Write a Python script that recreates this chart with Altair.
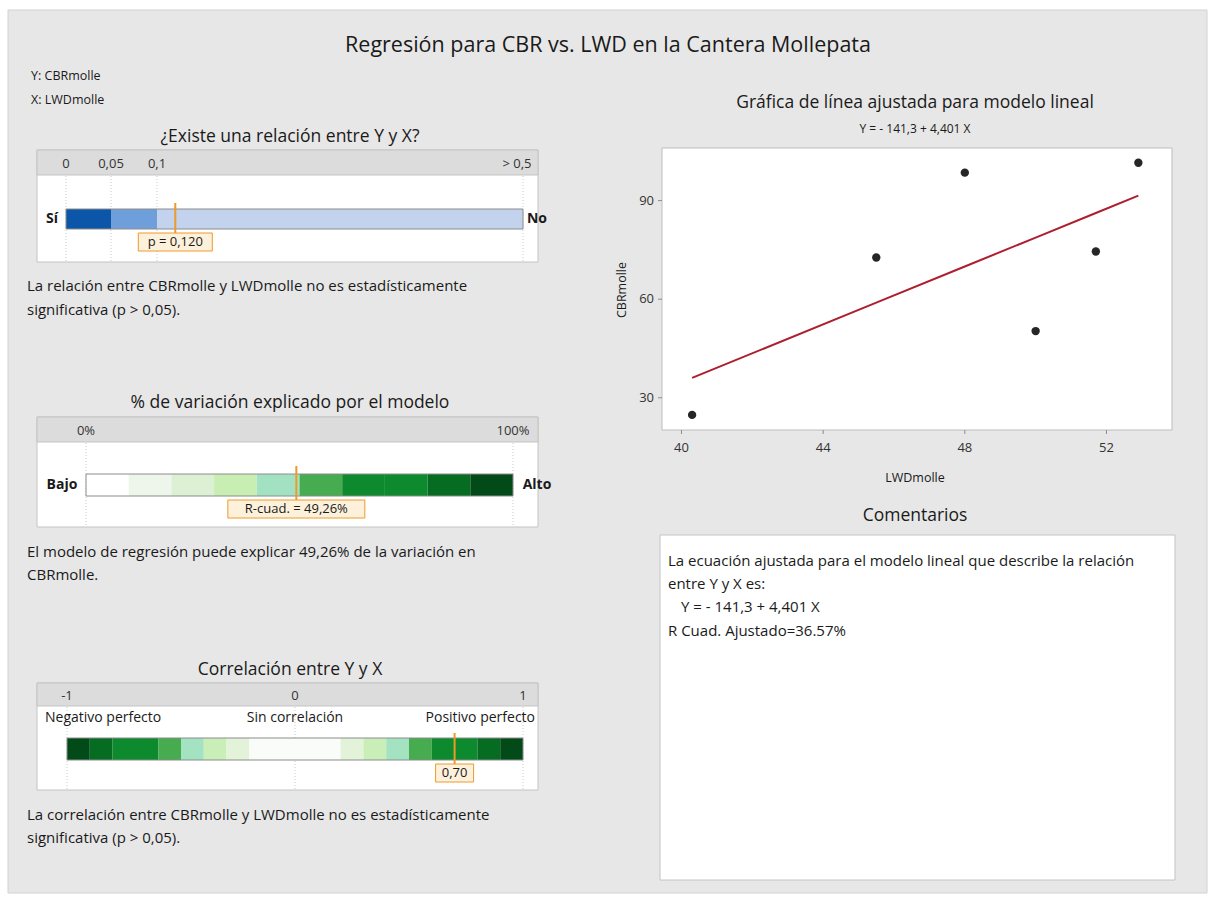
import altair as alt
import pandas as pd

W, H = 1216, 908
FONT = "Open Sans"
INK = "#1a1a1a"
ORANGE = "#ee9a2a"
BOX_FILL = "#fdf1dc"

# ---------------- data ----------------
# relationship test (p-value gauge)
p_value = 0.120
p_ticks = [0, 0.05, 0.1, 0.5]
p_tick_labels = ["0", "0,05", "0,1", "> 0,5"]
p_band_start = [0, 0.05, 0.1]
p_band_end = [0.05, 0.1, 0.5]
p_band_name = ["b1", "b2", "b3"]

# explained variation (R-squared gauge, %)
r2_value = 49.26
r2_ticks = [0, 100]
r2_tick_labels = ["0%", "100%"]
r2_band_start = [0, 10, 20, 30, 40, 50, 60, 70, 80, 90]
r2_band_end = [10, 20, 30, 40, 50, 60, 70, 80, 90, 100]
r2_band_name = ["g0", "g1", "g2", "g3", "g4", "g5", "g6", "g7", "g8", "g9"]

# correlation gauge
corr_value = 0.70
corr_ticks = [-1, 0, 1]
corr_tick_labels = ["-1", "0", "1"]
corr_band_start = [-1, -0.9, -0.8, -0.6, -0.5, -0.4, -0.3, -0.2, 0.2, 0.3, 0.4, 0.5, 0.6, 0.8, 0.9]
corr_band_end = [-0.9, -0.8, -0.6, -0.5, -0.4, -0.3, -0.2, 0.2, 0.3, 0.4, 0.5, 0.6, 0.8, 0.9, 1]
corr_band_name = ["c9", "c8", "c6", "c5", "c4", "c3", "c2", "c0", "c2", "c3", "c4", "c5", "c6", "c8", "c9"]

# observations and fitted line
lwd = [40.3, 45.5, 48.0, 50.0, 51.7, 52.9]
cbr = [24.8, 72.7, 98.5, 50.3, 74.5, 101.5]
intercept = -141.3
slope = 4.401
x_ticks = [40, 44, 48, 52]
y_ticks = [30, 60, 90]

# ---------------- styles ----------------
BLUES = ["#0b56a8", "#6e9fdb", "#c3d3ee"]
R2_GREENS = ["#ffffff", "#eef6eb", "#dcf0d3", "#c8eeb3", "#a2e2c3",
             "#47ab4f", "#0d8a2d", "#0d8a2d", "#066c21", "#024a18"]
CORR_NAMES = ["c0", "c2", "c3", "c4", "c5", "c6", "c8", "c9"]
CORR_GREENS = ["#f9fcf8", "#e2f3da", "#c9eeb8", "#a3e3c2", "#47ab4f", "#0d8a2d", "#066c21", "#024a18"]

BODY = 15
TITLE = 17.5
TICK = 13

one = pd.DataFrame({"k": [0]})
layers = []


def text(s, x, y, size=BODY, weight="normal", align="left", color=INK, angle=None):
    kw = dict(text=s, fontSize=size, fontWeight=weight, align=align,
              baseline="middle", color=color, font=FONT)
    if angle is not None:
        kw["angle"] = angle
    layers.append(alt.Chart(one).mark_text(**kw).encode(x=alt.value(x), y=alt.value(y)))


def rect(x1, y1, x2, y2, fill, stroke=None, sw=1):
    kw = dict(fill=fill)
    if stroke:
        kw.update(stroke=stroke, strokeWidth=sw)
    else:
        kw.update(strokeWidth=0)
    layers.append(alt.Chart(one).mark_rect(**kw).encode(
        x=alt.value(x1), x2=alt.value(x2), y=alt.value(y1), y2=alt.value(y2)))


def gauge(top, bottom, header_h, scale, ticks, tick_labels, starts, ends, names,
          names_dom, palette, bar_y1, bar_y2, value, value_label, label_w,
          marker_y1, marker_y2, label_y, last_label_dx=0):
    # frame and header strip
    rect(37, top, 538, bottom, "#ffffff", "#c4c4c4")
    rect(37, top, 538, top + header_h, "#dcdcdc", "#c4c4c4")
    # dotted guide lines at tick positions
    tdf = pd.DataFrame({"v": ticks, "lab": tick_labels})
    layers.append(alt.Chart(tdf).mark_rule(color="#c9c9c9", strokeDash=[1, 2], strokeWidth=1).encode(
        x=alt.X("v:Q", scale=scale, axis=None), y=alt.value(top + header_h + 1), y2=alt.value(bottom - 1)))
    # tick labels in the header strip (the last one may be nudged inward)
    head = pd.DataFrame({"v": ticks[:-1], "lab": tick_labels[:-1]})
    tail = pd.DataFrame({"v": ticks[-1:], "lab": tick_labels[-1:]})
    for part, dx in ((head, 0), (tail, last_label_dx)):
        layers.append(alt.Chart(part).mark_text(fontSize=TICK, font=FONT, color="#333333",
                                                baseline="middle", dx=dx).encode(
            x=alt.X("v:Q", scale=scale, axis=None), y=alt.value(top + header_h / 2 + 1), text="lab:N"))
    # colored bands
    bdf = pd.DataFrame({"start": starts, "end": ends, "band": names})
    layers.append(alt.Chart(bdf).mark_rect(strokeWidth=0).encode(
        x=alt.X("start:Q", scale=scale, axis=None), x2="end:Q",
        y=alt.value(bar_y1), y2=alt.value(bar_y2),
        color=alt.Color("band:N", scale=alt.Scale(domain=names_dom, range=palette), legend=None)))
    # bar outline
    odf = pd.DataFrame({"start": [ticks[0]], "end": [ticks[-1]]})
    layers.append(alt.Chart(odf).mark_rect(fill=None, stroke="#8c8c8c", strokeWidth=1).encode(
        x=alt.X("start:Q", scale=scale, axis=None), x2="end:Q",
        y=alt.value(bar_y1), y2=alt.value(bar_y2)))
    # value marker with its label
    vdf = pd.DataFrame({"v": [value], "lab": [value_label]})
    layers.append(alt.Chart(vdf).mark_rule(color=ORANGE, strokeWidth=2).encode(
        x=alt.X("v:Q", scale=scale, axis=None), y=alt.value(marker_y1), y2=alt.value(marker_y2)))
    layers.append(alt.Chart(vdf).mark_rect(fill=BOX_FILL, stroke=ORANGE, strokeWidth=1,
                                           xOffset=-label_w / 2, x2Offset=label_w / 2).encode(
        x=alt.X("v:Q", scale=scale, axis=None), x2="v:Q",
        y=alt.value(label_y - 9), y2=alt.value(label_y + 9)))
    layers.append(alt.Chart(vdf).mark_text(fontSize=TICK, font=FONT, color=INK, baseline="middle").encode(
        x=alt.X("v:Q", scale=scale, axis=None), y=alt.value(label_y), text="lab:N"))


# ---------------- background ----------------
rect(0, 0, W, H, "#ffffff")
rect(8, 10, 1207, 893, "#e7e7e7", "#d2d2d2")

text("Regresión para CBR vs. LWD en la Cantera Mollepata", 608, 46, size=21.5, align="center")
text("Y: CBRmolle", 31, 76, size=12.5)
text("X: LWDmolle", 31, 100, size=12.5)

# ---------------- gauge 1: p-value ----------------
text("¿Existe una relación entre Y y X?", 290, 137, size=TITLE, align="center")
p_scale = alt.Scale(domain=p_ticks, range=[66, 111, 157, 523], zero=False, nice=False)
gauge(150, 262, 25, p_scale, p_ticks, p_tick_labels, p_band_start, p_band_end, p_band_name,
      p_band_name, BLUES, 209, 229, p_value, "p = 0,120", 74, 203, 241, 242, last_label_dx=-6)
text("Sí", 52, 219, size=14, weight="bold", align="center")
text("No", 537, 219, size=14, weight="bold", align="center")
text("La relación entre CBRmolle y LWDmolle no es estadísticamente", 27, 286)
text("significativa (p > 0,05).", 27, 310)

# ---------------- gauge 2: R-squared ----------------
text("% de variación explicado por el modelo", 290, 403, size=TITLE, align="center")
r2_scale = alt.Scale(domain=[0, 100], range=[86, 513], zero=False, nice=False)
gauge(417, 527, 25, r2_scale, r2_ticks, r2_tick_labels, r2_band_start, r2_band_end, r2_band_name,
      r2_band_name, R2_GREENS, 474, 496, r2_value, "R-cuad. = 49,26%", 137, 466, 504, 509)
text("Bajo", 62, 485, size=14, weight="bold", align="center")
text("Alto", 537, 485, size=14, weight="bold", align="center")
text("El modelo de regresión puede explicar 49,26% de la variación en", 27, 552)
text("CBRmolle.", 27, 575)

# ---------------- gauge 3: correlation ----------------
text("Correlación entre Y y X", 290, 670, size=TITLE, align="center")
corr_scale = alt.Scale(domain=[-1, 1], range=[67, 523], zero=False, nice=False)
gauge(683, 790, 23, corr_scale, corr_ticks, corr_tick_labels, corr_band_start, corr_band_end,
      corr_band_name, CORR_NAMES, CORR_GREENS, 738, 760, corr_value, "0,70", 38, 733, 769, 773)
text("Negativo perfecto", 45, 718, size=14)
text("Sin correlación", 295, 718, size=14, align="center")
text("Positivo perfecto", 535, 718, size=14, align="right")
text("La correlación entre CBRmolle y LWDmolle no es estadísticamente", 27, 815)
text("significativa (p > 0,05).", 27, 838)

# ---------------- fitted line plot ----------------
text("Gráfica de línea ajustada para modelo lineal", 915, 103, size=TITLE, align="center")
text("Y = - 141,3 + 4,401 X", 915, 129, size=12, align="center")
PX0, PX1, PY0, PY1 = 662, 1172, 148, 430
rect(PX0, PY0, PX1, PY1, "#ffffff", "#bdbdbd")
xs = alt.Scale(domain=[39.45, 53.85], range=[PX0, PX1], zero=False, nice=False)
ys = alt.Scale(domain=[20.2, 106.0], range=[PY1, PY0], zero=False, nice=False)

obs = pd.DataFrame({"lwd": lwd, "cbr": cbr})
layers.append(alt.Chart(obs).transform_calculate(
    fit=f"{intercept} + {slope} * datum.lwd").mark_line(color="#ad1f2e", strokeWidth=2).encode(
    x=alt.X("lwd:Q", scale=xs, axis=None), y=alt.Y("fit:Q", scale=ys, axis=None), order="lwd:Q"))
layers.append(alt.Chart(obs).mark_circle(size=70, color="#262626", opacity=1).encode(
    x=alt.X("lwd:Q", scale=xs, axis=None), y=alt.Y("cbr:Q", scale=ys, axis=None)))

xt = pd.DataFrame({"v": x_ticks})
layers.append(alt.Chart(xt).mark_rule(color="#8c8c8c").encode(
    x=alt.X("v:Q", scale=xs, axis=None), y=alt.value(PY1), y2=alt.value(PY1 + 4)))
layers.append(alt.Chart(xt).mark_text(fontSize=TICK, font=FONT, color="#333333", baseline="middle").encode(
    x=alt.X("v:Q", scale=xs, axis=None), y=alt.value(448), text=alt.Text("v:Q", format="d")))
yt = pd.DataFrame({"v": y_ticks})
layers.append(alt.Chart(yt).mark_rule(color="#8c8c8c").encode(
    y=alt.Y("v:Q", scale=ys, axis=None), x=alt.value(PX0 - 4), x2=alt.value(PX0)))
layers.append(alt.Chart(yt).mark_text(fontSize=TICK, font=FONT, color="#333333", align="right",
                                      baseline="middle").encode(
    y=alt.Y("v:Q", scale=ys, axis=None), x=alt.value(PX0 - 8), text=alt.Text("v:Q", format="d")))
text("LWDmolle", 915, 478, size=12.5, align="center")
text("CBRmolle", 622, 290, size=12.5, align="center", angle=270)

# ---------------- comments ----------------
text("Comentarios", 915, 516, size=TITLE, align="center")
rect(660, 535, 1175, 880, "#ffffff", "#c4c4c4")
text("La ecuación ajustada para el modelo lineal que describe la relación", 668, 561)
text("entre Y y X es:", 668, 584)
text("Y = - 141,3 + 4,401 X", 681, 607)
text("R Cuad. Ajustado=36.57%", 668, 631)

chart = alt.layer(*layers).resolve_scale(
    x="independent", y="independent", color="independent"
).properties(
    width=W, height=H, autosize=alt.AutoSizeParams(type="none"), padding=0
).configure_view(stroke=None)

chart.save("out.html", embed_options={"renderer": "svg", "actions": False})
